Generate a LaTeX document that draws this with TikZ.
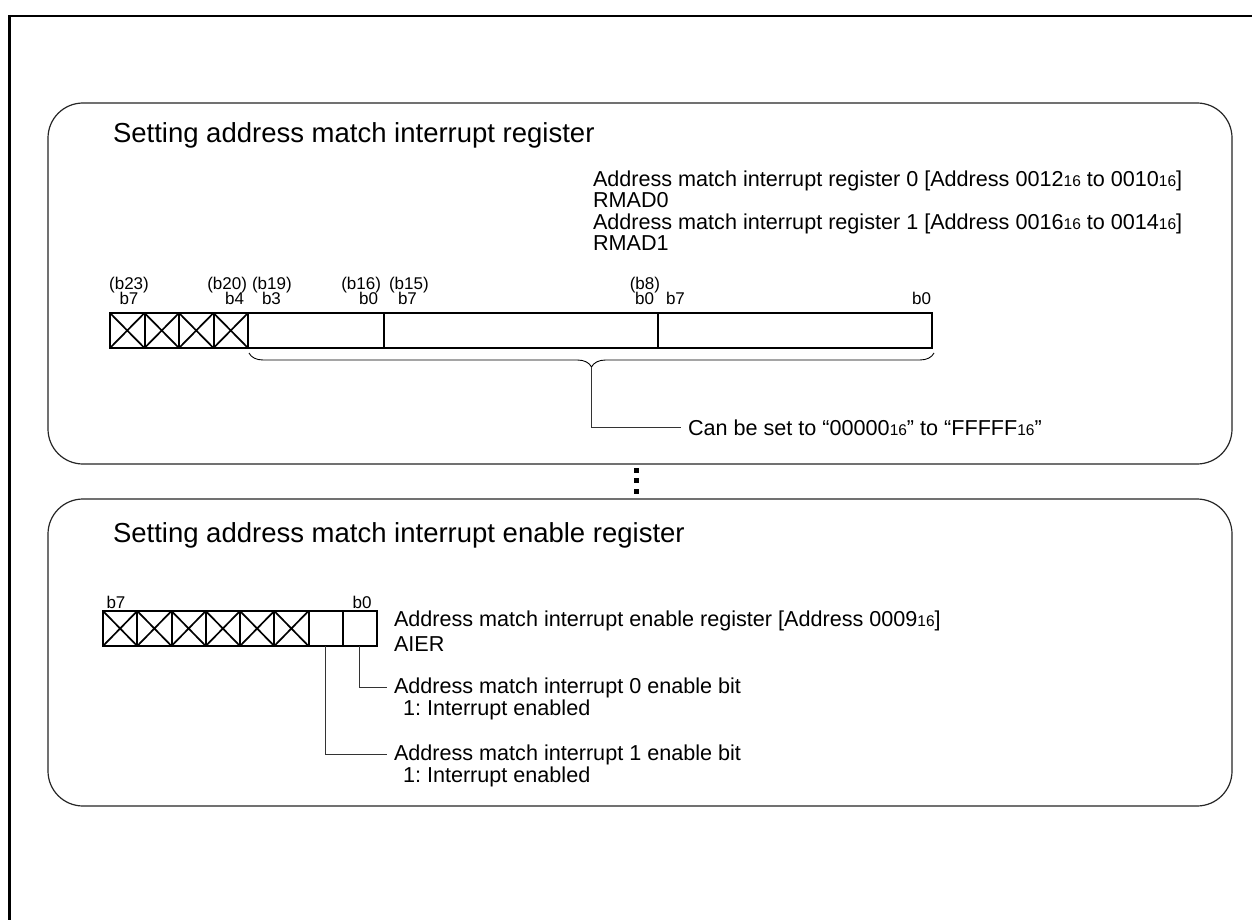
\documentclass[tikz,border=0pt]{standalone}
\usepackage{fontspec}
\setmainfont{Liberation Sans}
\usetikzlibrary{decorations.pathreplacing,calc}
\newcommand\hexsub[1]{{\fontsize{15.5}{15.5}\selectfont #1}}
\frenchspacing
\begin{document}
\begin{tikzpicture}[x=1pt,y=-1pt,
  cell/.style={draw, line width=2pt, rectangle, inner sep=0pt, outer sep=0pt, minimum height=35pt},
  xcell/.style={cell, path picture={\draw[line width=1.7pt]
     (path picture bounding box.north west)--(path picture bounding box.south east)
     (path picture bounding box.north east)--(path picture bounding box.south west);}},
  txt/.style={inner sep=0pt, outer sep=0pt, font=\fontsize{21.6}{24}\selectfont, anchor=base west},
  ttl/.style={inner sep=0pt, outer sep=0pt, font=\fontsize{27.5}{32}\selectfont, anchor=base west},
  lbl/.style={inner sep=0pt, outer sep=0pt, font=\fontsize{17}{18}\selectfont},
  panel/.style={draw=black!85, line width=1.2pt, rounded corners=35pt},
  lead/.style={draw=black!80, line width=1pt},
  dotsq/.style={fill=black, inner sep=0pt, minimum size=5pt, rectangle}
]
\useasboundingbox (0,0) rectangle (1252,920);
\fill[white] (0,0) rectangle (1252,920);
% outer frame
\draw[line width=2.6pt] (9.5,925) -- (9.5,16) -- (1260,16);
% panels
\draw[panel] (48,103) rectangle (1232,464);
\draw[panel] (48,499) rectangle (1232,806);
% separator dots
\node[dotsq] (d1) at (636,470) {};
\node[dotsq] (d2) at (636,480.5) {};
\node[dotsq] (d3) at (636,491) {};

% ---------- panel 1 ----------
\node[ttl] (t1) at (113,143) {Setting address match interrupt register};
\node[txt] (r0a) at (593,186) {Address match interrupt register 0 [Address 0012\hexsub{16} to 0010\hexsub{16}]};
\node[txt] (r0b) at (593,207.5) {RMAD0};
\node[txt] (r1a) at (593,229) {Address match interrupt register 1 [Address 0016\hexsub{16} to 0014\hexsub{16}]};
\node[txt] (r1b) at (593,250.5) {RMAD1};

% register cells
\node[xcell, minimum width=34.5pt] (a1) at (127.25,330.5) {};
\node[xcell, minimum width=34.5pt] (a2) at (161.75,330.5) {};
\node[xcell, minimum width=34.5pt] (a3) at (196.25,330.5) {};
\node[xcell, minimum width=34.5pt] (a4) at (230.75,330.5) {};
\node[cell, minimum width=136pt] (a5) at (316,330.5) {};
\node[cell, minimum width=274pt] (a6) at (521,330.5) {};
\node[cell, minimum width=274pt] (a7) at (795,330.5) {};

% bit labels
\node[lbl, anchor=base] (l1) at (129,289) {(b23)};
\node[lbl, anchor=base] (l2) at (129,304) {b7};
\node[lbl, anchor=base east] (l3) at (247,289) {(b20)};
\node[lbl, anchor=base east] (l4) at (244,304) {b4};
\node[lbl, anchor=base west] (l5) at (252,289) {(b19)};
\node[lbl, anchor=base west] (l6) at (262,304) {b3};
\node[lbl, anchor=base east] (l7) at (381,289) {(b16)};
\node[lbl, anchor=base east] (l8) at (378,304) {b0};
\node[lbl, anchor=base west] (l9) at (389,289) {(b15)};
\node[lbl, anchor=base west] (l10) at (398,304) {b7};
\node[lbl, anchor=base east] (l11) at (660,289) {(b8)};
\node[lbl, anchor=base east] (l12) at (654,304) {b0};
\node[lbl, anchor=base west] (l13) at (666,304) {b7};
\node[lbl, anchor=base east] (l14) at (931,304) {b0};

% brace
\coordinate (bl) at (249,353);
\coordinate (br) at (934,353);
\coordinate (tip) at ($(bl)!0.5!(br)+(0,14)$);
\draw[line width=0.9pt, decorate, decoration={brace, mirror, amplitude=14pt, raise=0pt}] (bl) -- (br);
\node[txt] (cb) at (688,435) {Can be set to “00000\hexsub{16}” to “FFFFF\hexsub{16}”};
\draw[lead] (tip) |- ([xshift=-7pt]cb.west);

% ---------- panel 2 ----------
\node[ttl] (t2) at (113,542) {Setting address match interrupt enable register};
\foreach \i in {0,...,5}{
  \node[xcell, minimum width=34.25pt] (e\i) at ({120.125+34.25*\i},628.5) {};
}
\node[cell, minimum width=34.25pt] (eb1) at (325.625,628.5) {};
\node[cell, minimum width=34.25pt] (eb0) at (359.875,628.5) {};
\node[lbl, anchor=base] (m1) at (116,608) {b7};
\node[lbl, anchor=base] (m2) at (362,608) {b0};

\node[txt] (ea) at (394,626) {Address match interrupt enable register [Address 0009\hexsub{16}]};
\node[txt] (eb) at (394,651) {AIER};
\node[txt] (f0) at (394,693.5) {Address match interrupt 0 enable bit};
\node[txt] (f0b) at (394,715.5) {\hspace*{9pt}1: Interrupt enabled};
\node[txt] (f1) at (394,760.5) {Address match interrupt 1 enable bit};
\node[txt] (f1b) at (394,782.5) {\hspace*{9pt}1: Interrupt enabled};

\draw[lead] (eb0.south) |- ([xshift=-7pt]f0.west);
\draw[lead] (eb1.south) |- ([xshift=-7pt]f1.west);
\end{tikzpicture}
\end{document}
